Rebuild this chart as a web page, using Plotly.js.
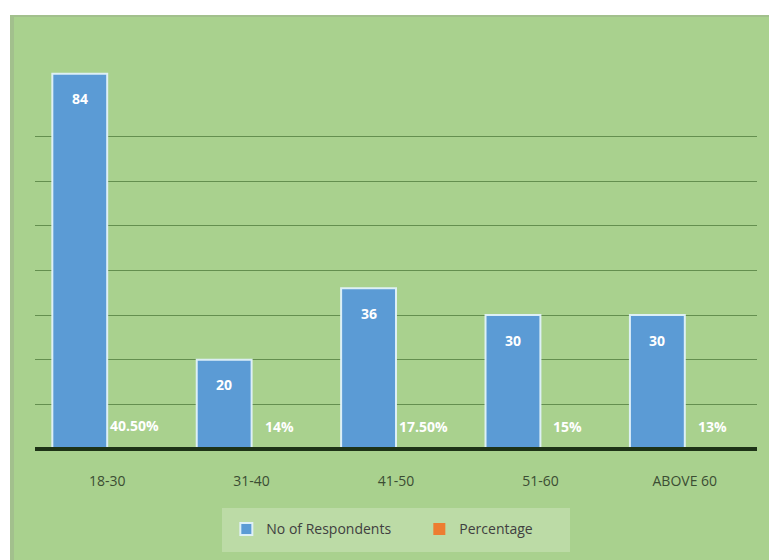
<!DOCTYPE html>
<html>
<head>
<meta charset="utf-8">
<script src="https://cdn.plot.ly/plotly-3.0.1.min.js"></script>
<style>
  html, body { margin: 0; padding: 0; background: #ffffff; width: 769px; height: 560px; overflow: hidden; }
  #frame { position: absolute; left: 10px; top: 15px; width: 759px; height: 545px; background: #a9d18e;
           box-shadow: inset 4px 2px 0 rgba(150,160,140,0.35); }
  #chart { position: absolute; left: 0; top: 0; width: 759px; height: 545px; }
</style>
</head>
<body>
<div id="frame"><div id="chart"></div></div>
<script>
// ---- data ----
const categories = ["18-30", "31-40", "41-50", "51-60", "ABOVE 60"];
const respondents = [84, 20, 36, 30, 30];
const percentage = [0.405, 0.14, 0.175, 0.15, 0.13];
const percentageLabels = ["40.50%", "14%", "17.50%", "15%", "13%"];
const gridValues = [10, 20, 30, 40, 50, 60, 70];

const labelFont = { family: "Open Sans, Noto Sans, sans-serif", size: 14, color: "#ffffff", weight: "bold" };

const traces = [
  {
    type: "bar", name: "No of Respondents", x: categories, y: respondents,
    marker: { color: "#5b9bd5", line: { color: "rgba(225,242,250,0.95)", width: 2 } },
    hoverinfo: "skip"
  },
  {
    type: "bar", name: "Percentage", x: categories, y: percentage,
    marker: { color: "#ed7d31", line: { width: 0 } },
    hoverinfo: "skip"
  }
];

const annotations = [];
categories.forEach((c, i) => {
  annotations.push({ x: c, y: respondents[i], xref: "x", yref: "y", text: "<b>" + respondents[i] + "</b>",
    showarrow: false, yanchor: "middle", xanchor: "center", yshift: -25, xshift: -27.5, font: labelFont });
  annotations.push({ x: c, y: percentage[i], xref: "x", yref: "y", text: "<b>" + percentageLabels[i] + "</b>",
    showarrow: false, yanchor: "middle", xanchor: "center", yshift: 22, xshift: 27.5, font: labelFont });
});

const layout = {
  width: 759, height: 545,
  margin: { l: 25, r: 12, t: 32, b: 111, pad: 0 },
  paper_bgcolor: "rgba(0,0,0,0)",
  plot_bgcolor: "rgba(0,0,0,0)",
  barmode: "group", bargap: 0.24, bargroupgap: 0,
  showlegend: true,
  legend: {
    orientation: "h", x: 0.265, xanchor: "left", y: -0.2, yanchor: "middle",
    entrywidth: 148, entrywidthmode: "pixels",
    bgcolor: "rgba(0,0,0,0)", font: { family: "Open Sans, Noto Sans, sans-serif", size: 14, color: "#404040" },
    itemclick: false, itemdoubleclick: false
  },
  xaxis: {
    type: "category", showgrid: false, zeroline: false,
    showline: true, linecolor: "#1e3317", linewidth: 2,
    ticks: "", ticklabelstandoff: 18,
    tickfont: { family: "Open Sans, Noto Sans, sans-serif", size: 14, color: "#3b4d33" }
  },
  yaxis: {
    range: [0, 90], tickvals: gridValues, showticklabels: false, ticks: "",
    showgrid: true, gridcolor: "#648f4f", gridwidth: 1, zeroline: false, showline: false
  },
  shapes: [
    { type: "rect", xref: "paper", yref: "paper", x0: 0.259, x1: 0.741, y0: -0.256, y1: -0.147,
      fillcolor: "#bcdba6", line: { width: 0 }, layer: "below" },
    { type: "line", xref: "paper", yref: "y", x0: 0, x1: 1, y0: 0, y1: 0,
      line: { color: "#1e3317", width: 4 }, layer: "above" }
  ],
  annotations: annotations
};

Plotly.newPlot("chart", traces, layout, { displayModeBar: false, staticPlot: true });
</script>
</body>
</html>
